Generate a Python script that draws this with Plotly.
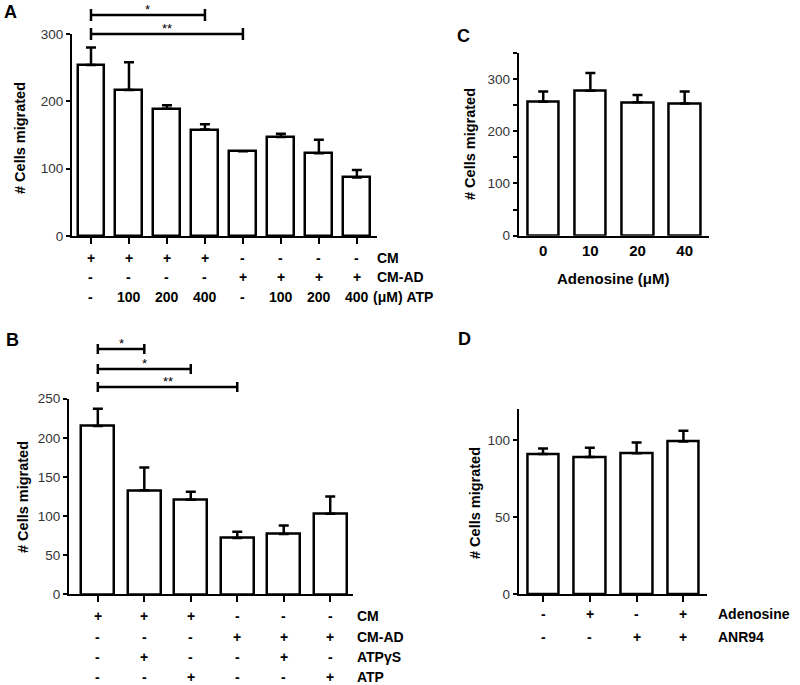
import plotly.graph_objects as go

W, H = 800, 685

# ---------------- data ----------------
a_vals = [254, 217, 189, 158, 126, 147, 123, 87]
a_err = [26, 41, 5, 8, 0, 5, 20, 11]
a_row_cm = ["+", "+", "+", "+", "-", "-", "-", "-"]
a_row_cmad = ["-", "-", "-", "-", "+", "+", "+", "+"]
a_row_atp = ["-", "100", "200", "400", "-", "100", "200", "400"]
a_row_names = ["CM", "CM-AD", "(\u03bcM) ATP"]
a_sig = [(0, 3, "*"), (0, 4, "**")]

b_vals = [215, 133, 121, 72, 77, 103]
b_err = [22, 29, 10, 8, 11, 22]
b_row_cm = ["+", "+", "+", "-", "-", "-"]
b_row_cmad = ["-", "-", "-", "+", "+", "+"]
b_row_atpgs = ["-", "+", "-", "-", "+", "-"]
b_row_atp = ["-", "-", "+", "-", "-", "+"]
b_row_names = ["CM", "CM-AD", "ATP\u03b3S", "ATP"]
b_sig = [(0, 1, "*"), (0, 2, "*"), (0, 3, "**")]

c_labels = ["0", "10", "20", "40"]
c_vals = [256, 277, 255, 253]
c_err = [20, 34, 14, 23]

d_vals = [91, 89, 91.5, 99]
d_err = [3.5, 6, 7, 7]
d_row_aden = ["-", "+", "-", "+"]
d_row_anr = ["-", "-", "+", "+"]
d_row_names = ["Adenosine", "ANR94"]

FONT = "Liberation Sans, Arial, sans-serif"
LBL = 14


def px(x):
    return x / W


def py(y):
    return 1 - y / H


fig = go.Figure()


def add_bars(vals, err, xa, ya, width):
    xs = list(range(len(vals)))
    fig.add_trace(go.Bar(
        x=xs, y=vals, width=width, xaxis=xa, yaxis=ya,
        marker=dict(color="white", line=dict(color="black", width=2.5)),
        error_y=dict(type="data", symmetric=False, array=err,
                     arrayminus=[0] * len(err), color="black",
                     thickness=2.5, width=5),
        showlegend=False, hoverinfo="skip",
    ))


add_bars(a_vals, a_err, "x", "y", 0.71)
add_bars(b_vals, b_err, "x2", "y2", 0.71)
add_bars(c_vals, c_err, "x3", "y3", 0.67)
add_bars(d_vals, d_err, "x4", "y4", 0.67)

axis_common = dict(showgrid=False, zeroline=False, showline=True,
                   linecolor="black", linewidth=2,
                   tickwidth=2, tickcolor="black", fixedrange=True,
                   automargin=False)
ytick_font = dict(family=FONT, size=13.5, color="#333")

fig.update_layout(
    template="none",
    width=W, height=H, autosize=False,
    margin=dict(l=0, r=0, t=0, b=0, pad=0),
    paper_bgcolor="white", plot_bgcolor="white",
    bargap=0,
    xaxis=dict(domain=[px(72), px(377)], range=[-0.5, 7.53], anchor="y",
               tickvals=list(range(len(a_vals))), showticklabels=False,
               ticks="outside", ticklen=6, **axis_common),
    yaxis=dict(domain=[py(236), py(34)], range=[0, 300], anchor="x",
               tickvals=[0, 100, 200, 300], ticks="outside", ticklen=4,
               tickfont=ytick_font, **axis_common),
    xaxis2=dict(domain=[px(69), px(353)], range=[-0.62, 5.49], anchor="y2",
                tickvals=list(range(len(b_vals))), showticklabels=False,
                ticks="outside", ticklen=6, **axis_common),
    yaxis2=dict(domain=[py(594.3), py(398.7)], range=[0, 250], anchor="x2",
                tickvals=[0, 50, 100, 150, 200, 250], ticks="outside", ticklen=4,
                tickfont=ytick_font, **axis_common),
    xaxis3=dict(domain=[px(518.7), px(708.7)], range=[-0.52, 3.51], anchor="y3",
                tickvals=list(range(len(c_vals))), ticktext=c_labels,
                ticks="", ticklen=0,
                tickfont=dict(family=FONT, size=15, color="black", weight="bold"),
                **axis_common),
    yaxis3=dict(domain=[py(235.7), py(52.7)], range=[0, 350], anchor="x3",
                tickvals=[0, 100, 200, 300], ticks="outside", ticklen=4,
                minor=dict(tickvals=[50, 150, 250, 350], ticklen=4, tickwidth=2,
                           tickcolor="black", ticks="outside"),
                tickfont=ytick_font, **axis_common),
    xaxis4=dict(domain=[px(518.7), px(707.3)], range=[-0.52, 3.51], anchor="y4",
                tickvals=list(range(len(d_vals))), showticklabels=False,
                ticks="outside", ticklen=6, **axis_common),
    yaxis4=dict(domain=[py(594), py(409.3)], range=[0, 120], anchor="x4",
                tickvals=[0, 50, 100], ticks="outside", ticklen=4,
                tickfont=ytick_font, **axis_common),
)

ann = []
shapes = []


def text(x, y, s, size=LBL, xref="paper", xanchor="center", yanchor="middle",
         bold=True, angle=0):
    ann.append(dict(x=x, y=y, xref=xref, yref="paper", text=s, showarrow=False,
                    xanchor=xanchor, yanchor=yanchor, textangle=angle,
                    font=dict(family=FONT, size=size, color="black",
                              weight="bold" if bold else "normal")))


# panel letters
text(px(2), py(12), "A", size=18, xanchor="left")
text(px(4), py(340), "B", size=18, xanchor="left")
text(px(455), py(36), "C", size=18, xanchor="left")
text(px(456), py(339), "D", size=18, xanchor="left")

# y titles
text(px(20), py(138), "# Cells migrated", size=14.5, angle=-90)
text(px(23), py(497), "# Cells migrated", size=14.5, angle=-90)
text(px(470), py(144), "# Cells migrated", size=14.5, angle=-90)
text(px(475), py(503), "# Cells migrated", size=14.5, angle=-90)

# C x title
text(px(613), py(278), "Adenosine (\u03bcM)", size=15)


def rows(xref, row_lists, row_ys, names, name_x):
    for r, (lst, yy) in enumerate(zip(row_lists, row_ys)):
        for i, s in enumerate(lst):
            text(i, py(yy), s, xref=xref)
        text(px(name_x[r]), py(yy), names[r], xanchor="left")


rows("x", [a_row_cm, a_row_cmad, a_row_atp], [258, 277, 297], a_row_names,
     [375, 375, 371])
rows("x2", [b_row_cm, b_row_cmad, b_row_atpgs, b_row_atp], [616, 637, 657, 677],
     b_row_names, [355, 355, 355, 355])
rows("x4", [d_row_aden, d_row_anr], [614, 637], d_row_names, [716, 716])


def brackets(xref, sig, line_ys, half):
    for (i0, i1, star), yy in zip(sig, line_ys):
        yv = py(yy)
        shapes.append(dict(type="line", xref=xref, yref="paper", x0=i0, x1=i1,
                           y0=yv, y1=yv, line=dict(color="black", width=2.5)))
        for xi in (i0, i1):
            shapes.append(dict(type="line", xref=xref, yref="paper", x0=xi, x1=xi,
                               y0=py(yy - half), y1=py(yy + half),
                               line=dict(color="black", width=2.5)))
        ann.append(dict(x=(i0 + i1) / 2, y=py(yy + 4), xref=xref, yref="paper",
                        text=star, showarrow=False, xanchor="center",
                        yanchor="bottom",
                        font=dict(family=FONT, size=13, color="black")))


brackets("x", a_sig, [15, 34], 6)
brackets("x2", b_sig, [349, 369, 387], 5)

fig.update_layout(annotations=ann, shapes=shapes)
# remove the default page margin so the 800x685 figure fills the window exactly
fig.write_html("out.html", config={"displayModeBar": False},
               post_script="document.body.style.margin='0';"
                           "document.body.style.overflow='hidden';")
